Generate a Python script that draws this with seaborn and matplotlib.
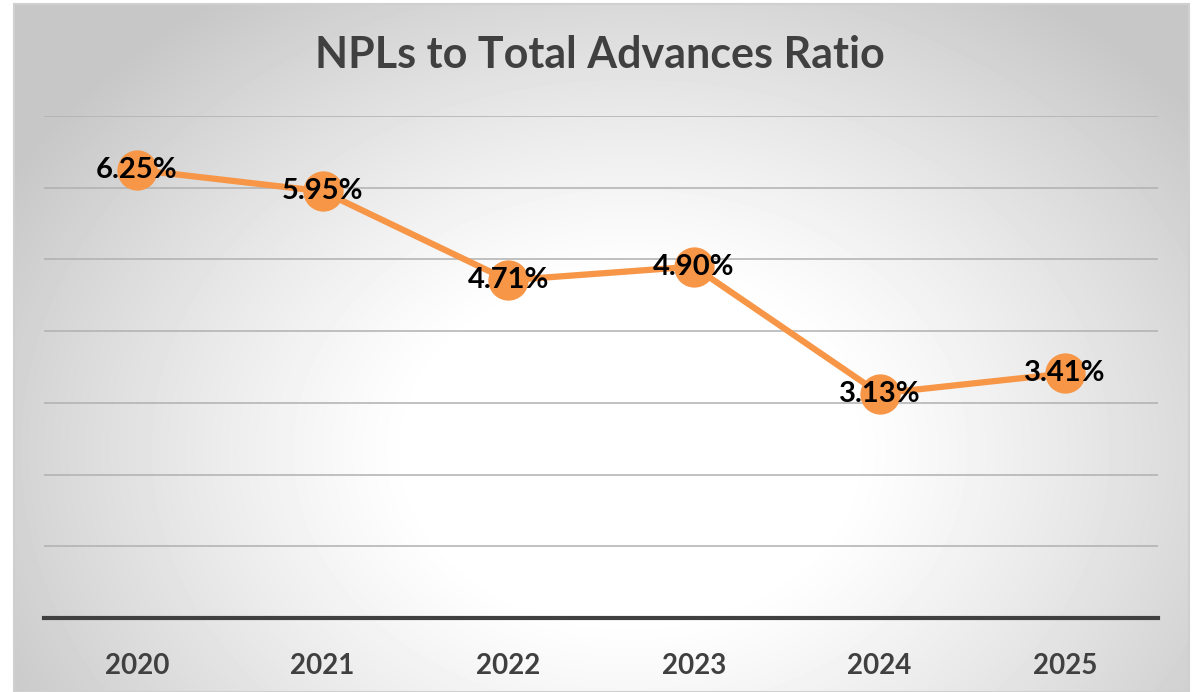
import numpy as np
import pandas as pd
import matplotlib.pyplot as plt
import seaborn as sns

years = ['2020', '2021', '2022', '2023', '2024', '2025']
npl_ratio = [6.25, 5.95, 4.71, 4.90, 3.13, 3.41]

df = pd.DataFrame({'Year': years, 'NPL': npl_ratio})

sns.set_style('white')
plt.rcParams['font.family'] = ['Lato', 'DejaVu Sans']

fig = plt.figure(figsize=(11.99, 6.92), dpi=100)

# radial grey background behind the chart area (white centre, grey corners)
bx0, bx1, by0 = 14, 1189, 4
bg = fig.add_axes([bx0/1199, 0, (bx1-bx0)/1199, 1-by0/692], zorder=0)
px, py = np.meshgrid(np.arange(bx0, bx1), np.arange(by0, 692))
r = np.sqrt(((px - 630) / 620) ** 2 + ((py - 450) / 480) ** 2)
shade = 1.0 - 0.22 * np.clip((r - 0.35) / 0.8, 0, 1) ** 1.15
bg.imshow(shade, cmap='gray', vmin=0, vmax=1, aspect='auto', interpolation='bilinear')
bg.set_axis_off()
fig.patches.append(plt.Rectangle((bx0/1199, 0), (bx1-bx0)/1199, 1-by0/692, transform=fig.transFigure,
                                 fill=False, edgecolor='#d0d0d0', lw=1.5, zorder=1))

ax = fig.add_axes([44/1199, 1-618/692, (1158-44)/1199, (618-116)/692], zorder=2)
ax.patch.set_alpha(0)

sns.lineplot(data=df, x='Year', y='NPL', ax=ax, color='#f79646', lw=4.5,
             marker='o', markersize=29, markeredgewidth=0, sort=False, zorder=3)

for i, v in enumerate(npl_ratio):
    ax.text(i, v, f'{v:.2f}%', ha='center', va='center', fontsize=21,
            fontweight='bold', color='black', zorder=4)

ax.set_ylim(0, 7)
ax.set_xlim(-0.5, 5.5)
ax.set_yticks(range(1, 8))
ax.yaxis.grid(True, color='#b0b0b0', lw=1.1)
ax.set_axisbelow(True)
ax.tick_params(axis='y', left=False, labelleft=False)
ax.tick_params(axis='x', bottom=False, pad=22)
for lab in ax.get_xticklabels():
    lab.set_fontsize(20)
    lab.set_fontweight('bold')
    lab.set_color('#404040')
for s in ['top', 'right', 'left']:
    ax.spines[s].set_visible(False)
ax.spines['bottom'].set_color('#404040')
ax.spines['bottom'].set_linewidth(3)
ax.set_xlabel('')
ax.set_ylabel('')

fig.text(0.5, 1-55/692, 'NPLs to Total Advances Ratio', ha='center', va='center',
         fontsize=31, fontweight='bold', color='#404040', zorder=3)

fig.savefig('out.png', dpi=100)
